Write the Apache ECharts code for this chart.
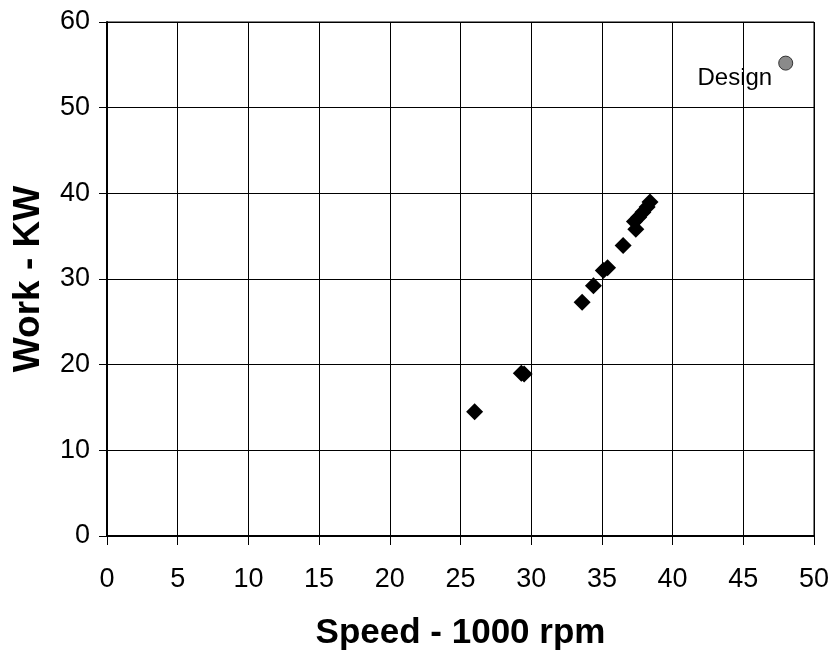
<!DOCTYPE html>
<html>
<head>
<meta charset="utf-8">
<script src="https://cdn.jsdelivr.net/npm/echarts@6/dist/echarts.min.js"></script>
<style>
html,body{margin:0;padding:0;background:#fff;}
#chart{width:831px;height:657px;}
</style>
</head>
<body>
<div id="chart"></div>
<script>
// Measured data (speed in 1000 rpm, work in KW)
var speedValues = [26.0, 29.3, 29.5, 33.6, 34.4, 35.1, 35.4, 36.5, 37.4, 37.3, 37.6, 37.9, 38.2, 38.4];
var workValues  = [14.5, 19.0, 18.9, 27.3, 29.2, 31.0, 31.3, 33.9, 35.8, 36.7, 37.2, 37.8, 38.4, 39.0];
var designSpeed = [48.0];
var designWork  = [55.2];
var designLabel = ['Design'];
var xTicks = [0, 5, 10, 15, 20, 25, 30, 35, 40, 45, 50];
var yTicks = [0, 10, 20, 30, 40, 50, 60];
var xTitle = 'Speed - 1000 rpm';
var yTitle = 'Work - KW';

var measured = speedValues.map(function (s, i) { return [s, workValues[i]]; });
var design = designSpeed.map(function (s, i) { return { value: [s, designWork[i]], name: designLabel[i] }; });

var font = 'Liberation Sans, Arial, sans-serif';
var chart = echarts.init(document.getElementById('chart'), null, { renderer: 'canvas' });
chart.setOption({
  animation: false,
  backgroundColor: '#fff',
  grid: { left: 107, right: 17, top: 22, bottom: 121, containLabel: false, outerBoundsMode: 'none',
          show: true, borderColor: '#000', borderWidth: 1 },
  xAxis: {
    type: 'value',
    min: xTicks[0], max: xTicks[xTicks.length - 1], interval: 5,
    name: xTitle, nameLocation: 'middle', nameGap: 80,
    nameTextStyle: { fontFamily: font, fontWeight: 'bold', fontSize: 35, color: '#000' },
    axisLine: { show: true, onZero: false, lineStyle: { color: '#000', width: 2 } },
    axisTick: { show: true, inside: false, length: 9, lineStyle: { color: '#000', width: 1 } },
    axisLabel: { fontFamily: font, fontSize: 27, color: '#000', margin: 30 },
    splitLine: { show: true, lineStyle: { color: '#000', width: 1 } }
  },
  yAxis: {
    type: 'value',
    min: yTicks[0], max: yTicks[yTicks.length - 1], interval: 10,
    name: yTitle, nameLocation: 'middle', nameGap: 60, nameRotate: 90,
    nameTextStyle: { fontFamily: font, fontWeight: 'bold', fontSize: 37, color: '#000' },
    axisLine: { show: true, onZero: false, lineStyle: { color: '#000', width: 2 } },
    axisTick: { show: true, inside: false, length: 8, lineStyle: { color: '#000', width: 1 } },
    axisLabel: { fontFamily: font, fontSize: 27, color: '#000', margin: 17 },
    splitLine: { show: true, lineStyle: { color: '#000', width: 1 } }
  },
  series: [
    {
      type: 'scatter',
      data: measured,
      symbol: 'diamond',
      symbolSize: 17,
      itemStyle: { color: '#000', opacity: 1 }
    },
    {
      type: 'scatter',
      data: design,
      symbol: 'circle',
      symbolSize: 14,
      itemStyle: { color: '#8a8a8a', borderColor: '#333', borderWidth: 1, opacity: 1 },
      label: {
        show: true, position: 'left', distance: 6, offset: [0, 15],
        formatter: function (p) { return p.name; },
        fontFamily: font, fontSize: 24, color: '#000'
      }
    }
  ]
});
</script>
</body>
</html>
